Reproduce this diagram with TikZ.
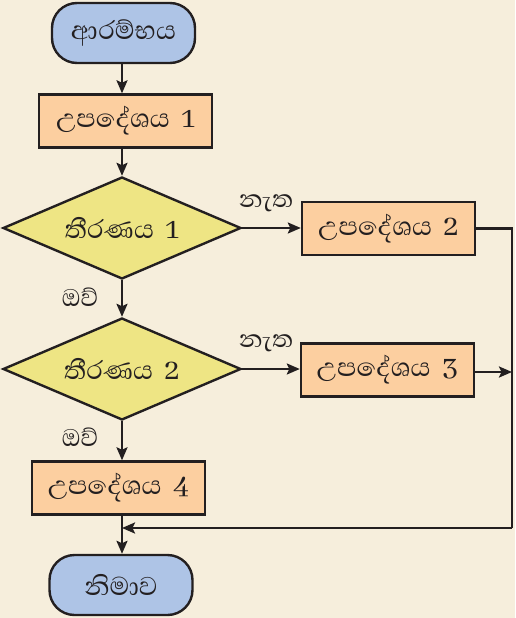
\documentclass[tikz,border=0pt]{standalone}
\usepackage{fontspec}
\newfontfamily\sinhfont[Script=Sinhala]{Abhaya Libre}
\usetikzlibrary{shapes.geometric,arrows.meta}
\definecolor{bg}{HTML}{F6EEDC}
\definecolor{termblue}{HTML}{AEC4E6}
\definecolor{procorange}{HTML}{FCCFA0}
\definecolor{decyellow}{HTML}{EEE584}
\definecolor{ink}{HTML}{231F20}
\tikzset{
  base/.style={draw=ink, line width=2.4pt, font=\sinhfont\fontsize{33}{36}\selectfont, text=ink, inner sep=0pt},
  term/.style={base, fill=termblue, rounded corners=25pt, minimum width=143pt, minimum height=60pt},
  proc/.style={base, fill=procorange, minimum width=173pt, minimum height=53pt},
  dec/.style={base, fill=decyellow, diamond, aspect=2.33, minimum width=238pt, minimum height=102pt},
  lbl/.style={font=\sinhfont\fontsize{31}{34}\selectfont, text=ink, inner sep=0pt},
  flow/.style={draw=ink, line width=2.4pt, -{Stealth[length=13pt,width=11pt,inset=2.5pt]}},
  plain/.style={draw=ink, line width=2.4pt}
}
\newcommand{\gapnum}[1]{\hspace{0.35em}#1}
\begin{document}
\begin{tikzpicture}[x=1pt,y=-1pt]
\fill[bg] (0,0) rectangle (515,618);
\useasboundingbox (0,0) rectangle (515,618);
\node[term] (start) at (123.5,33) {ආරම්භය};
\node[proc] (p1) at (125.5,121) {උපදේශය\gapnum{1}};
\node[dec] (d1) at (122,228) {තීරණය\gapnum{1}};
\node[proc] (p2) at (388.5,228.5) {උපදේශය\gapnum{2}};
\node[dec] (d2) at (122,369) {තීරණය\gapnum{2}};
\node[proc] (p3) at (387.5,370) {උපදේශය\gapnum{3}};
\node[proc] (p4) at (118.5,488) {උපදේශය\gapnum{4}};
\node[term] (end) at (121,585) {නිමාව};
\node[lbl] (n1) at (266,203) {නැත};
\node[lbl] (n2) at (266,343) {නැත};
\node[lbl] (y1) at (80,297) {ඔව්};
\node[lbl] (y2) at (80,437) {ඔව්};
\coordinate (c2) at (512,228.5);
\coordinate (c3) at (512,372);
\coordinate (c4) at (512,528);
\coordinate (m) at (122,528);
\draw[flow] (start.south -| 122,0) -- (p1.north -| 122,0);
\draw[flow] (p1.south -| 122,0) -- (d1.north);
\draw[flow] (d1.east) -- (p2.west |- d1.east);
\draw[flow] (d1.south) -- (d2.north);
\draw[flow] (d2.east) -- (p3.west |- d2.east);
\draw[flow] (d2.south) -- (p4.north -| d2.south);
\draw[flow] (p4.south -| d2.south) -- (end.north -| d2.south);
\draw[plain] (p2.east) -- (c2) -- (c4);
\draw[flow] (c4) -- (m);
\draw[flow] (p3.east |- c3) -- (c3);
\end{tikzpicture}
\end{document}
